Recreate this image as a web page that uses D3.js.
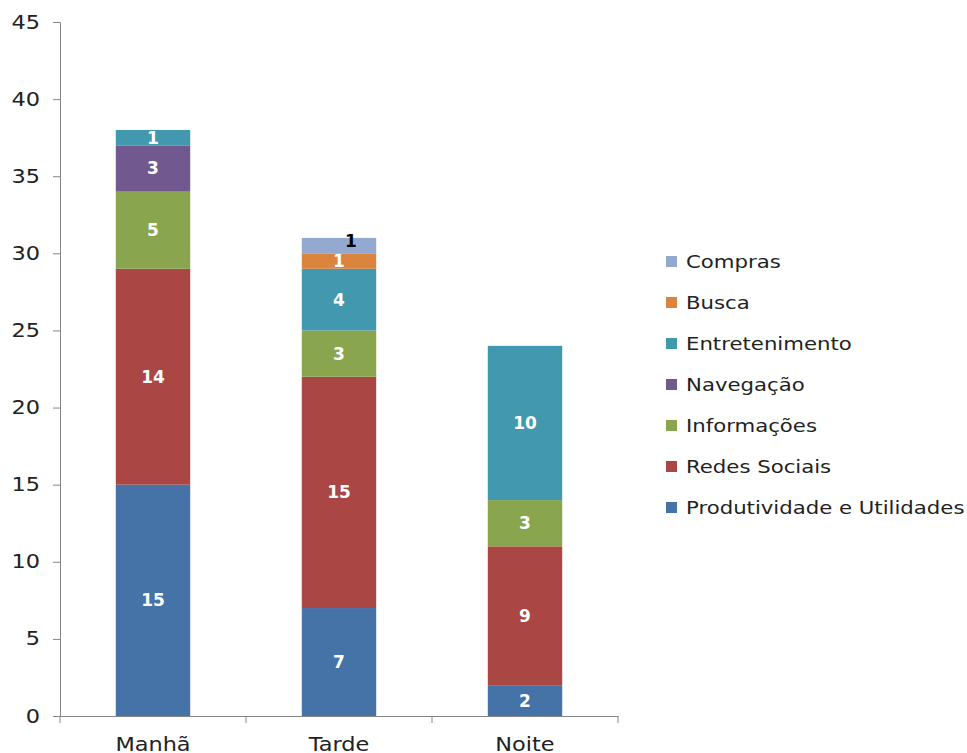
<!DOCTYPE html>
<html>
<head>
<meta charset="utf-8">
<script src="https://cdn.jsdelivr.net/npm/d3@7"></script>
<style>
  body { margin: 0; background: #fff; }
  text { font-family: "DejaVu Sans", Verdana, sans-serif; }
</style>
</head>
<body>
<div id="chart"></div>
<script>
const categories = ["Manhã", "Tarde", "Noite"];
const seriesNames = ["Produtividade e Utilidades", "Redes Sociais", "Informações", "Navegação", "Entretenimento", "Busca", "Compras"];
const produtividade = [15, 7, 2];
const redesSociais = [14, 15, 9];
const informacoes = [5, 3, 3];
const navegacao = [3, 0, 0];
const entretenimento = [1, 4, 10];
const busca = [0, 1, 0];
const compras = [0, 1, 0];
const yTicks = [0, 5, 10, 15, 20, 25, 30, 35, 40, 45];

const colors = ["#4572A7", "#AA4643", "#89A54E", "#71588F", "#4198AF", "#DB843D", "#93A9CF"];

const margin = ({ top: 22, right: 349, bottom: 37, left: 60 });
const width = 967 - margin.left - margin.right;
const height = 753 - margin.top - margin.bottom;
const stretch = 1.18; // text in the picture is drawn wide

const allValues = [produtividade, redesSociais, informacoes, navegacao, entretenimento, busca, compras];
const data = categories.map((c, i) => {
    let row = { cat: c };
    seriesNames.forEach((s, j) => row[s] = allValues[j][i]);
    return row;
});

let svg = d3.select("#chart")
    .append("svg")
    .attr("width", 967)
    .attr("height", 753)
    .append("g")
    .attr("transform", `translate(${margin.left},${margin.top})`);

let xScale = d3.scaleBand()
    .domain(categories)
    .range([0, width])
    .paddingInner(0.6)
    .paddingOuter(0.3);

let yScale = d3.scaleLinear()
    .domain([0, 45])
    .range([height, 0]);

let colorScale = d3.scaleOrdinal()
    .domain(seriesNames)
    .range(colors);

let series = d3.stack().keys(seriesNames)(data);

//=== axes ===
svg.append("g")
    .attr("class", "axis y-axis")
    .call(d3.axisLeft(yScale).tickValues(yTicks).tickSize(7).tickPadding(13));

svg.append("g")
    .attr("class", "axis x-axis")
    .attr("transform", `translate(0, ${height})`)
    .call(d3.axisBottom(xScale).tickSize(0).tickPadding(22));

// category boundary ticks
const step = xScale.step();
svg.selectAll(".bound")
    .data(d3.range(categories.length + 1))
    .join("line")
    .attr("class", "bound")
    .attr("x1", d => d * step)
    .attr("x2", d => d * step)
    .attr("y1", height)
    .attr("y2", height + 7)
    .attr("stroke", "#868686");

svg.selectAll(".axis path, .axis line").attr("stroke", "#868686");
svg.selectAll(".axis text")
    .attr("font-size", 19)
    .attr("fill", "#222");

svg.selectAll(".y-axis text")
    .attr("x", 0)
    .attr("transform", `translate(-20,0) scale(${stretch},1)`);
svg.selectAll(".x-axis text")
    .attr("transform", `scale(${stretch},1)`);

//=== bars ===
let groups = svg.selectAll(".layer")
    .data(series)
    .join("g")
    .attr("class", "layer")
    .attr("fill", d => colorScale(d.key));

groups.selectAll("rect")
    .data(d => d.filter(p => p[1] - p[0] > 0))
    .join("rect")
    .attr("x", d => xScale(d.data.cat))
    .attr("width", xScale.bandwidth())
    .attr("y", d => yScale(d[1]))
    .attr("height", d => yScale(d[0]) - yScale(d[1]));

// labels
series.forEach(s => {
    s.forEach(p => {
        let v = p[1] - p[0];
        if (v <= 0) return;
        let isTop = s.key === "Compras";
        svg.append("text")
            .attr("x", xScale(p.data.cat) + xScale.bandwidth() / 2 + (isTop ? 12 : 0))
            .attr("y", isTop ? yScale(p[1]) + 3 : yScale((p[0] + p[1]) / 2))
            .attr("dy", "0.35em")
            .attr("text-anchor", "middle")
            .attr("font-size", 17)
            .attr("font-weight", "bold")
            .attr("fill", isTop ? "#000" : "#fff")
            .text(v);
    });
});

//=== legend ===
let legend = svg.append("g")
    .attr("transform", `translate(${666 - margin.left}, ${262 - margin.top})`);

let items = legend.selectAll("g")
    .data(seriesNames.slice().reverse())
    .join("g")
    .attr("transform", (d, i) => `translate(0, ${i * 41})`);

items.append("rect")
    .attr("x", 0)
    .attr("y", -6)
    .attr("width", 11)
    .attr("height", 11)
    .attr("fill", d => colorScale(d));

items.append("text")
    .attr("transform", `translate(20,0) scale(${stretch},1)`)
    .attr("dy", "0.35em")
    .attr("font-size", 18)
    .attr("fill", "#222")
    .text(d => d);
</script>
</body>
</html>
